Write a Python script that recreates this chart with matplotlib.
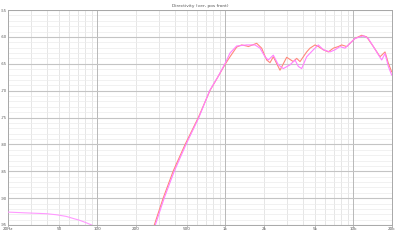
import matplotlib
matplotlib.use("Agg")
import matplotlib.pyplot as plt
from matplotlib.ticker import FixedLocator, NullFormatter

title = "Directivity (ver, pos front)"

# Series A (salmon)
freq_a = [278, 326, 390, 484, 614, 756, 880, 1000, 1085, 1223, 1338, 1464, 1509,
          1753, 1918, 2098, 2228, 2365, 2667, 3007, 3390, 3600, 3823, 4309, 4576,
          5006, 5316, 5815, 6362, 6962, 7617, 8088, 8851, 9396, 10280, 11590,
          12680, 14300, 16120, 17640, 18730, 19880]
db_a = [-95.0, -90.0, -85.0, -80.0, -75.0, -70.0, -67.3, -65.0, -63.7, -61.9, -61.5,
        -61.7, -61.8, -61.2, -62.1, -64.3, -64.8, -63.7, -66.2, -63.8, -64.6, -64.0,
        -64.6, -62.8, -62.1, -61.5, -61.8, -62.4, -62.8, -62.1, -61.8, -61.5, -61.8,
        -61.2, -60.3, -59.7, -60.0, -61.8, -63.7, -62.8, -64.9, -66.5]

# Series B (magenta)
freq_b = [283, 332, 398, 492, 620, 752, 870, 1000, 1085, 1223, 1464, 1701, 1861,
          2036, 2162, 2365, 2588, 2832, 3193, 3494, 3710, 3939, 4309, 4859, 5316,
          5815, 6557, 7174, 7849, 8587, 9396, 10280, 11950, 13060, 15180, 16610,
          17640, 18730, 19880]
db_b = [-95.0, -90.0, -85.0, -80.0, -75.0, -70.0, -67.5, -64.8, -63.0, -61.7, -61.5,
        -61.5, -62.1, -63.7, -64.3, -63.4, -65.2, -65.9, -65.2, -64.3, -65.5, -65.9,
        -63.7, -62.4, -61.5, -62.4, -62.8, -62.4, -61.8, -62.1, -61.2, -60.3, -59.8,
        -60.3, -62.8, -64.3, -63.1, -65.5, -67.1]

# Low-frequency tail (magenta)
freq_c = [20, 25, 31.5, 40, 48, 57, 65, 72, 78, 84, 90, 94]
db_c = [-92.6, -92.7, -92.8, -92.9, -93.1, -93.4, -93.8, -94.1, -94.4, -94.7, -95.0, -95.3]

xticks = [20, 50, 100, 200, 500, 1000, 2000, 5000, 10000, 20000]
xlabels = ["20Hz", "50", "100", "200", "500", "1k", "2k", "5k", "10k", "20k"]
yticks = [-95, -90, -85, -80, -75, -70, -65, -60, -55]

fig = plt.figure(figsize=(4, 2.46), dpi=100)
ax = fig.add_axes([0.02, 1 - 225 / 246, 0.96, 215 / 246])
ax.set_xscale("log")
ax.set_xlim(20, 20000)
ax.set_ylim(-95, -55)

# grid
minor_x = [f * m for f in (10, 100, 1000, 10000) for m in range(2, 10) if 20 <= f * m <= 20000]
for f in minor_x:
    ax.axvline(f, color="#e2e2e2", lw=0.6, zorder=0)
for f in (100, 1000, 10000):
    ax.axvline(f, color="#b8b8b8", lw=0.7, zorder=0.5)
for v in range(-95, -54):
    if v % 5 != 0:
        ax.axhline(v, color="#ececec", lw=0.5, zorder=0)
for v in yticks:
    ax.axhline(v, color="#c4c4c4", lw=0.8, zorder=0.5)

ax.plot(freq_a, db_a, color="#ff887a", lw=0.8, zorder=3)
ax.plot(freq_b, db_b, color="#ff80ff", lw=0.8, zorder=3)
ax.plot(freq_c, db_c, color="#ff99ff", lw=0.8, zorder=3)

ax.xaxis.set_major_locator(FixedLocator(xticks))
ax.xaxis.set_minor_locator(FixedLocator([]))
ax.xaxis.set_minor_formatter(NullFormatter())
ax.set_xticks(xticks)
ax.set_xticklabels(xlabels)
ax.set_yticks(yticks)
ax.set_yticklabels([str(v) for v in yticks])
ax.tick_params(axis="x", length=1.2, width=0.5, color="#a0a0a0",
               labelsize=3.0, labelcolor="#555555", pad=0.6)
ax.tick_params(axis="y", length=0, labelsize=2.7, labelcolor="#555555", pad=0.6)
for s in ax.spines.values():
    s.set_color("#a8a8a8")
    s.set_linewidth(0.7)

fig.text(0.5, 1 - 6 / 246, title, ha="center", va="center", fontsize=3.2, color="#555555")

fig.savefig("out.png", dpi=100)
